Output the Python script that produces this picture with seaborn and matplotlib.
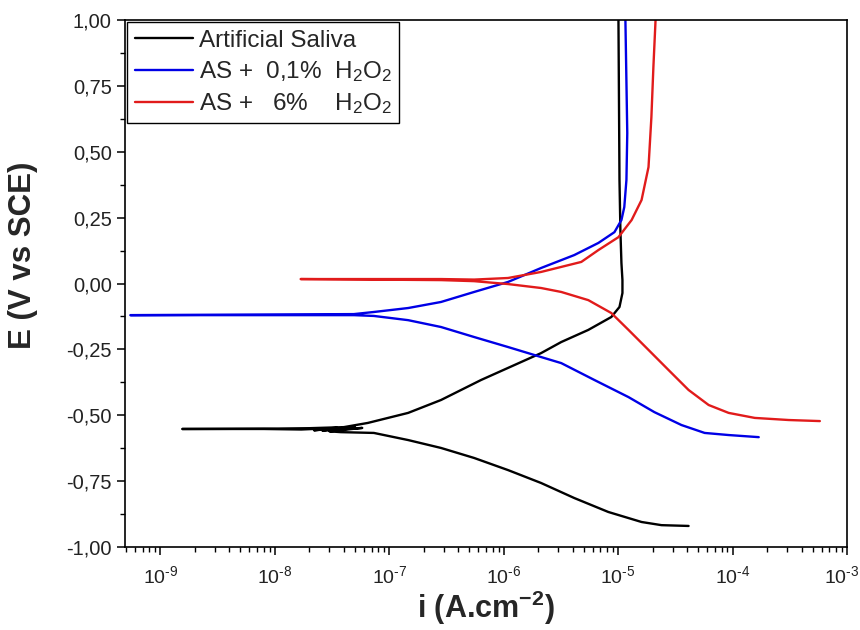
import numpy as np
import pandas as pd
import matplotlib
matplotlib.use("Agg")
import matplotlib.pyplot as plt
import matplotlib.transforms as mtransforms
from matplotlib.ticker import FuncFormatter, MultipleLocator, FixedLocator, NullFormatter
import seaborn as sns

# ---- data (current density A/cm2, potential V vs SCE) ----
# each curve is traced as scanned: cathodic end -> corrosion potential spike -> anodic end
saliva_i = [4.12e-5, 2.39e-5, 1.60e-5, 8.20e-6, 4.13e-6, 2.12e-6, 1.09e-6, 5.51e-7, 2.83e-7,
            1.46e-7, 7.33e-8, 3.77e-8,
            3.0e-8, 5.8e-8, 2.6e-8, 5.0e-8, 2.2e-8, 3.5e-8, 1.7e-8, 8.0e-9, 1.55e-9,
            8.0e-9, 2.0e-8, 4.0e-8,
            6.50e-8, 1.46e-7, 2.83e-7, 6.34e-7, 2.12e-6, 3.18e-6, 5.48e-6, 8.71e-6,
            1.026e-5, 1.089e-5, 1.089e-5, 1.067e-5, 1.045e-5, 1.026e-5, 1.005e-5]
saliva_E = [-0.920, -0.917, -0.905, -0.867, -0.814, -0.757, -0.708, -0.662, -0.624,
            -0.594, -0.567, -0.564,
            -0.561, -0.548, -0.558, -0.545, -0.557, -0.548, -0.554, -0.552, -0.552,
            -0.551, -0.549, -0.545,
            -0.529, -0.491, -0.442, -0.366, -0.264, -0.222, -0.176, -0.127,
            -0.089, -0.036, 0.013, 0.078, 0.203, 0.393, 1.000]

h2o2_01_i = [1.69e-4, 9.23e-5, 5.69e-5, 3.57e-5, 2.07e-5, 1.23e-5, 6.19e-6, 3.18e-6, 2.12e-6,
             1.09e-6, 5.51e-7, 2.83e-7, 1.46e-7, 7.33e-8, 4.90e-8, 5.46e-10, 4.90e-8,
             7.33e-8, 1.46e-7, 2.83e-7, 5.51e-7, 1.09e-6, 2.12e-6, 4.13e-6, 6.71e-6,
             9.27e-6, 1.067e-5, 1.13e-5, 1.18e-5, 1.20e-5, 1.156e-5]
h2o2_01_E = [-0.583, -0.575, -0.567, -0.537, -0.488, -0.431, -0.366, -0.302, -0.279,
             -0.241, -0.203, -0.165, -0.139, -0.123, -0.120, -0.120, -0.116,
             -0.108, -0.093, -0.070, -0.032, 0.006, 0.059, 0.108, 0.154,
             0.195, 0.241, 0.290, 0.393, 0.571, 1.000]

h2o2_6_i = [5.78e-4, 3.09e-4, 1.56e-4, 9.23e-5, 6.17e-5, 4.12e-5, 2.75e-5, 1.84e-5, 1.23e-5,
            8.71e-6, 5.48e-6, 3.18e-6, 2.12e-6, 1.09e-6, 5.51e-7, 2.83e-7, 1.68e-8, 2.83e-7,
            5.51e-7, 1.09e-6, 2.12e-6, 4.76e-6, 6.71e-6, 1.005e-5, 1.31e-5, 1.60e-5,
            1.84e-5, 1.95e-5, 2.03e-5, 2.12e-5]
h2o2_6_E = [-0.522, -0.518, -0.510, -0.491, -0.461, -0.404, -0.328, -0.252, -0.176,
            -0.112, -0.063, -0.032, -0.017, -0.002, 0.009, 0.013, 0.017, 0.017,
            0.015, 0.021, 0.044, 0.082, 0.127, 0.176, 0.241, 0.317,
            0.442, 0.632, 0.822, 1.000]

labels = ["Artificial Saliva",
          "AS +  0,1%  H$_2$O$_2$",
          "AS +   6%    H$_2$O$_2$"]
colors = ["#000000", "#0000e6", "#e11b1b"]
x_decades = [1e-9, 1e-8, 1e-7, 1e-6, 1e-5, 1e-4, 1e-3]
x_tick_labels = ["10$^{\u20109}$", "10$^{\u20108}$", "10$^{\u20107}$", "10$^{\u20106}$",
                 "10$^{\u20105}$", "10$^{\u20104}$", "10$^{\u20103}$"]

sns.set_theme(style="white")
plt.rcParams["font.family"] = ["Liberation Sans", "DejaVu Sans"]
plt.rcParams["mathtext.fontset"] = "custom"
plt.rcParams["mathtext.rm"] = "Liberation Sans"
plt.rcParams["mathtext.it"] = "Liberation Sans:italic"
plt.rcParams["mathtext.bf"] = "Liberation Sans:bold"
plt.rcParams["mathtext.default"] = "regular"

fig = plt.figure(figsize=(8.6, 6.3), dpi=100)
ax = fig.add_axes([0.1453, 0.1317, 0.8397, 0.8365])

series = [(saliva_i, saliva_E), (h2o2_01_i, h2o2_01_E), (h2o2_6_i, h2o2_6_E)]
for (xi, ye), lab, col in zip(series, labels, colors):
    df = pd.DataFrame({"i": xi, "E": ye})
    sns.lineplot(data=df, x="i", y="E", sort=False, estimator=None, color=col,
                 linewidth=1.7, label=lab, ax=ax)

ax.set_xscale("log")
ax.set_xlim(4.9e-10, 1e-3)
ax.set_ylim(-1.0, 1.0)

ax.yaxis.set_major_locator(MultipleLocator(0.25))
ax.yaxis.set_minor_locator(MultipleLocator(0.125))
ax.yaxis.set_major_formatter(FuncFormatter(lambda v, p: f"{v:.2f}".replace(".", ",")))

minor = [m * d for d in [1e-10, 1e-9, 1e-8, 1e-7, 1e-6, 1e-5, 1e-4] for m in range(2, 10)]
minor = [v for v in minor if 4.9e-10 <= v <= 1e-3]
ax.xaxis.set_major_locator(FixedLocator(x_decades))
ax.xaxis.set_minor_locator(FixedLocator(minor))
ax.set_xticklabels(x_tick_labels)
ax.xaxis.set_minor_formatter(NullFormatter())

ax.tick_params(axis="y", which="major", labelsize=14.5)
ax.tick_params(axis="x", which="major", labelsize=14, pad=7)
ax.tick_params(axis="both", which="major", direction="out", length=6, width=1.1,
               color="black", labelcolor="#222222", bottom=True, left=True)
ax.tick_params(axis="both", which="minor", direction="out", length=3.5, width=1.0,
               color="black", bottom=True, left=True)

# keep the last decade label inside the figure edge
last = ax.get_xticklabels()[-1]
last.set_transform(last.get_transform() +
                   mtransforms.ScaledTranslation(-5 / 100, 0, fig.dpi_scale_trans))

for s in ax.spines.values():
    s.set_color("black")
    s.set_linewidth(1.2)

ax.set_xlabel("i (A.cm$^{-2}$)", fontsize=22, fontweight="bold", labelpad=1)
ax.set_ylabel("E (V vs SCE)", fontsize=22.5, fontweight="bold")
ax.yaxis.set_label_coords(-0.121, 0.554)

leg = ax.legend(loc="upper left", fontsize=17.5, frameon=True, fancybox=False,
                handlelength=2.4, handletextpad=0.25, borderpad=0.3, labelspacing=0.3,
                borderaxespad=0.1)
leg.get_frame().set_edgecolor("black")
leg.get_frame().set_linewidth(1.0)
leg.get_frame().set_alpha(1)

fig.savefig("out.png", dpi=100)
